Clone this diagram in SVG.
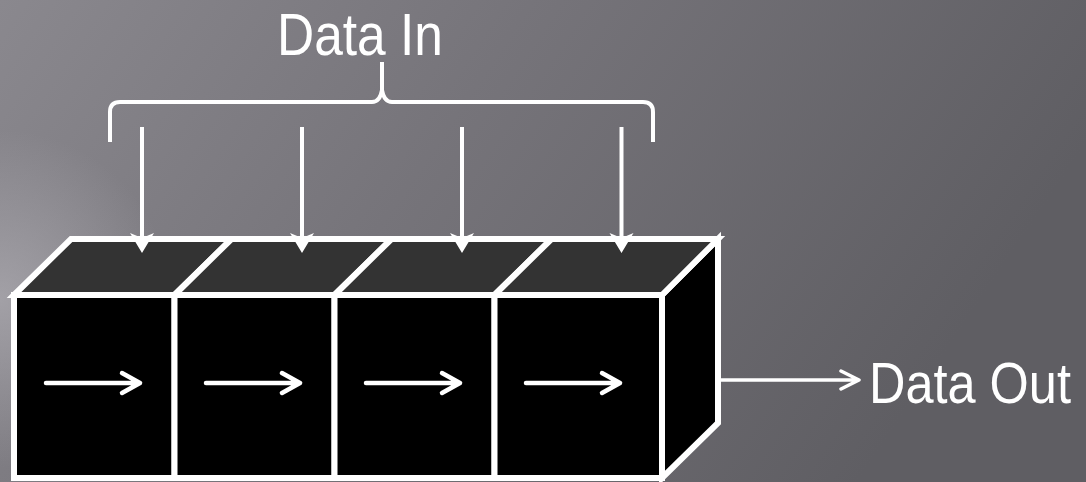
<svg xmlns="http://www.w3.org/2000/svg" width="1086" height="482" viewBox="0 0 1086 482">
<defs>
<linearGradient id="bg" x1="0" y1="0" x2="1" y2="0.3">
<stop offset="0" stop-color="#8a888e"/>
<stop offset="0.45" stop-color="#76747a"/>
<stop offset="1" stop-color="#5f5e63"/>
</linearGradient>
<radialGradient id="glow" cx="0" cy="0.62" r="0.35" gradientTransform="scale(0.45 1)">
<stop offset="0" stop-color="#b0aeb4" stop-opacity="0.7"/>
<stop offset="1" stop-color="#b0aeb4" stop-opacity="0"/>
</radialGradient>
<style>
.front{fill:#000;stroke:#fff;stroke-width:6;stroke-linejoin:miter}
.top{fill:#333;stroke:#fff;stroke-width:6;stroke-linejoin:miter}
.side{fill:#000;stroke:#fff;stroke-width:6;stroke-linejoin:miter}
.flow{fill:none;stroke:#fff;stroke-width:4.5;stroke-linecap:round;stroke-linejoin:round}
.wire{fill:none;stroke:#fff;stroke-width:4}
.head{fill:#fff;stroke:none}
.brace{fill:none;stroke:#fff;stroke-width:4;stroke-linecap:butt;stroke-linejoin:round}
.lbl{fill:#fff;font-family:"Liberation Sans",Arial,sans-serif;font-size:59px}
</style>
</defs>
<rect width="1086" height="482" fill="url(#bg)"/>
<rect width="1086" height="482" fill="url(#glow)"/>

<g id="side-face">
<polygon class="side" points="662,295 718,239 718,423 662,478"/>
</g>

<g id="cell1">
<polygon class="top" points="14,295 71,239 231.5,239 174.5,295"/>
<rect class="front" x="14" y="295" width="160.5" height="183"/>
<path class="flow" d="M46,383 H140 M122,373 L140,383 L122,393"/>
</g>
<g id="cell2">
<polygon class="top" points="174.5,295 231.5,239 391.5,239 334.5,295"/>
<rect class="front" x="174.5" y="295" width="160" height="183"/>
<path class="flow" d="M206,383 H300 M282,373 L300,383 L282,393"/>
</g>
<g id="cell3">
<polygon class="top" points="334.5,295 391.5,239 551.5,239 494.5,295"/>
<rect class="front" x="334.5" y="295" width="160" height="183"/>
<path class="flow" d="M366,383 H460 M442,373 L460,383 L442,393"/>
</g>
<g id="cell4">
<polygon class="top" points="494.5,295 551.5,239 718,239 662,295"/>
<rect class="front" x="494.5" y="295" width="167.5" height="183"/>
<path class="flow" d="M526,383 H620 M602,373 L620,383 L602,393"/>
</g>

<g id="brace">
<path class="brace" d="M110,142 V112 Q110,102 120,102 H372 Q380,102 382,90 V62 M382,62 V90 Q384,102 392,102 H643 Q653,102 653,112 V142"/>
</g>

<g id="connectors">
<line class="wire" x1="142" y1="127" x2="142" y2="240"/>
<path class="head" d="M142,253 L130,233 L142,238 L154,233 Z"/>
<line class="wire" x1="302" y1="127" x2="302" y2="240"/>
<path class="head" d="M302,253 L290,233 L302,238 L314,233 Z"/>
<line class="wire" x1="462" y1="127" x2="462" y2="240"/>
<path class="head" d="M462,253 L450,233 L462,238 L474,233 Z"/>
<line class="wire" x1="621.5" y1="127" x2="621.5" y2="240"/>
<path class="head" d="M621.5,253 L609.5,233 L621.5,238 L633.5,233 Z"/>
<path class="flow" style="stroke-width:3.5" d="M720,380 H859 M841,371 L859,380 L841,389"/>
</g>

<g id="labels">
<text class="lbl" transform="translate(277 55) scale(0.872 1)" x="0" y="0">Data In</text>
<text class="lbl" transform="translate(869 403) scale(0.87 1)" x="0" y="0" style="font-size:58px">Data Out</text>
</g>
</svg>
